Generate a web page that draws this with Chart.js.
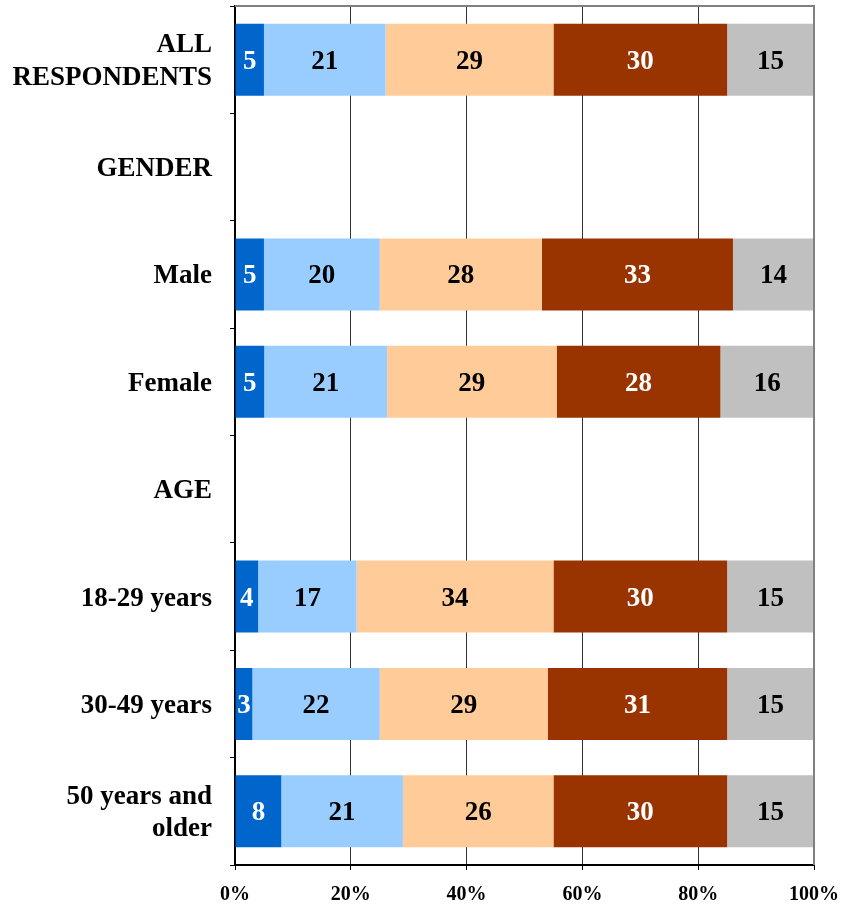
<!DOCTYPE html>
<html>
<head>
<meta charset="utf-8">
<script src="https://cdn.jsdelivr.net/npm/chart.js@4/dist/chart.umd.min.js"></script>
<style>
  body { margin: 0; background: #ffffff; }
  #wrap { width: 844px; height: 907px; }
</style>
</head>
<body>
<div id="wrap"><canvas id="chart" width="844" height="907"></canvas></div>
<script>
// Kategorije (redovi grafa)
const categories = [
    ['ALL', 'RESPONDENTS'],
    'GENDER',
    'Male',
    'Female',
    'AGE',
    '18-29 years',
    '30-49 years',
    ['50 years and', 'older']
];

// Vrijednosti po segmentima (null = prazan red)
const seg1 = [5, null, 5, 5, null, 4, 3, 8];
const seg2 = [21, null, 20, 21, null, 17, 22, 21];
const seg3 = [29, null, 28, 29, null, 34, 29, 26];
const seg4 = [30, null, 33, 28, null, 30, 31, 30];
const seg5 = [15, null, 14, 16, null, 15, 15, 15];

const xTicks = [0, 20, 40, 60, 80, 100];

const segColors = ['#0066CC', '#99CCFF', '#FFCC99', '#993300', '#C0C0C0'];
const labelColors = ['#ffffff', '#000000', '#000000', '#ffffff', '#000000'];

const allSegs = [seg1, seg2, seg3, seg4, seg5];

// 100% stacked - normalizacija po redu
const totals = categories.map((c, i) => allSegs.reduce((s, arr) => s + (arr[i] || 0), 0));
function toPct(arr) {
    return arr.map((v, i) => v === null ? null : v / totals[i] * 100);
}

const FONT = "'Liberation Serif', 'Times New Roman', serif";

// Ispis vrijednosti u sredini segmenta
const valueLabels = {
    id: 'valueLabels',
    afterDatasetsDraw(chart) {
        const ctx = chart.ctx;
        ctx.save();
        ctx.font = 'bold 27px ' + FONT;
        ctx.textAlign = 'center';
        ctx.textBaseline = 'middle';
        chart.data.datasets.forEach((ds, di) => {
            const meta = chart.getDatasetMeta(di);
            meta.data.forEach((bar, i) => {
                const raw = allSegs[di][i];
                if (raw === null) return;
                ctx.fillStyle = labelColors[di];
                ctx.fillText(String(raw), (bar.x + bar.base) / 2, bar.y + 2);
            });
        });
        ctx.restore();
    }
};

// Sivi gornji i desni rub plot podruƒçja
const frame = {
    id: 'frame',
    afterDraw(chart) {
        const a = chart.chartArea;
        const ctx = chart.ctx;
        ctx.save();
        ctx.strokeStyle = '#808080';
        ctx.lineWidth = 2;
        ctx.beginPath();
        ctx.moveTo(a.left, a.top);
        ctx.lineTo(a.right, a.top);
        ctx.lineTo(a.right, a.bottom);
        ctx.stroke();
        ctx.restore();
    }
};

new Chart(document.getElementById('chart'), {
    type: 'bar',
    data: {
        labels: categories,
        datasets: allSegs.map((arr, i) => ({
            data: toPct(arr),
            backgroundColor: segColors[i],
            borderWidth: 0,
            categoryPercentage: 1,
            barPercentage: 0.67
        }))
    },
    options: {
        indexAxis: 'y',
        responsive: false,
        animation: false,
        layout: { padding: { top: 6, right: 30, left: 0, bottom: 0 } },
        plugins: {
            legend: { display: false },
            tooltip: { enabled: false }
        },
        scales: {
            x: {
                stacked: true,
                min: 0,
                max: 100,
                afterBuildTicks(scale) {
                    scale.ticks = xTicks.map(v => ({ value: v }));
                },
                afterFit(scale) {
                    scale.height = 42;
                    scale.paddingLeft = 0;
                    scale.paddingRight = 0;
                },
                border: { color: '#000000', width: 2 },
                grid: {
                    color: c => (c.tick && c.tick.value === 100) ? '#808080' : '#333333',
                    lineWidth: 1,
                    tickLength: 5,
                    tickColor: '#000000'
                },
                ticks: {
                    color: '#000000',
                    padding: 13,
                    font: { family: FONT, size: 20, weight: 'bold' },
                    callback: v => v + '%'
                }
            },
            y: {
                stacked: true,
                afterFit(scale) {
                    scale.width = 235;
                    scale.paddingTop = 0;
                    scale.paddingBottom = 0;
                },
                border: { color: '#000000', width: 2 },
                grid: {
                    drawOnChartArea: false,
                    offset: true,
                    tickLength: 5,
                    tickColor: '#000000'
                },
                ticks: {
                    color: '#000000',
                    padding: 18,
                    labelOffset: 2,
                    font: { family: FONT, size: 27, weight: 'bold' }
                }
            }
        }
    },
    plugins: [valueLabels, frame]
});
</script>
</body>
</html>
